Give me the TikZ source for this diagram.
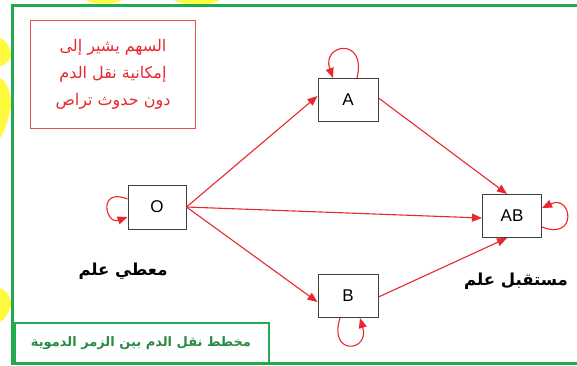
\documentclass[tikz,border=0pt]{standalone}
\usepackage{fontspec}
\setmainfont{Liberation Sans}
\TeXXeTstate=1
\newfontfamily\arabicfont[Script=Arabic]{DejaVu Sans}
\usetikzlibrary{arrows.meta}
\definecolor{frameGreen}{RGB}{34,170,80}
\definecolor{capGreen}{RGB}{40,140,70}
\definecolor{arrRed}{RGB}{232,40,45}
\definecolor{noteRed}{RGB}{230,80,85}
\definecolor{blobYellow}{RGB}{255,250,60}
\tikzset{
  groupbox/.style={draw=black!75, line width=1pt, fill=white,
    inner sep=0pt, font=\fontsize{17}{19}\selectfont},
  flow/.style={draw=arrRed, line width=1.1pt,
    -{Triangle[length=10pt,width=8pt]}, fill=none},
  arlabel/.style={font=\arabicfont\bfseries\fontsize{16.5}{18}\selectfont, inner sep=0pt},
  notetext/.style={text=arrRed, font=\arabicfont\fontsize{16}{18}\selectfont, inner sep=0pt},
}
\begin{document}
\begin{tikzpicture}[x=1pt,y=-1pt]
\useasboundingbox (0,0) rectangle (577,365);
\fill[white] (0,0) rectangle (577,365);

% yellow decorations peeking out behind the frame
\fill[blobYellow] (0,38) .. controls (6,40) and (11,48) .. (11,56)
  .. controls (8,64) and (3,66) .. (0,66) -- cycle;
\fill[blobYellow] (0,78) .. controls (7,82) and (11,92) .. (11,105)
  .. controls (8,122) and (4,132) .. (0,138) -- cycle;
\fill[blobYellow] (0,288) .. controls (6,290) and (11,296) .. (11,305)
  .. controls (8,316) and (3,320) .. (0,322) -- cycle;
\fill[blobYellow] (86,0) .. controls (92,5) and (115,5) .. (122,0) -- cycle;
\fill[blobYellow] (174,0) .. controls (182,6) and (212,6) .. (220,0) -- cycle;

% outer frame
\draw[frameGreen, line width=2.5pt, fill=white] (12.5,5.5) rectangle (579,363.5);

% caption box
\node[draw=frameGreen, line width=2pt, minimum width=254pt, minimum height=41pt,
  inner sep=0pt, anchor=north west] (caption) at (14,322) {};
\node[arlabel, text=capGreen, font=\arabicfont\bfseries\fontsize{13}{15}\selectfont]
  (captiontext) at (141,343) {\beginR مخطط نقل الدم بين الزمر الدموية\endR};

% note box
\node[draw=noteRed, line width=0.9pt, minimum width=165pt, minimum height=108pt,
  inner sep=0pt, anchor=north west] (note) at (30,20) {};
\node[notetext] (note1) at (113,47) {\beginR السهم يشير إلى\endR};
\node[notetext] (note2) at (113,74) {\beginR إمكانية نقل الدم\endR};
\node[notetext] (note3) at (113,101) {\beginR دون حدوث تراص\endR};

% blood group boxes
\node[groupbox, minimum width=58pt, minimum height=44pt] (O) at (157,207) {O};
\node[groupbox, minimum width=60pt, minimum height=43pt] (A) at (348,100) {A};
\node[groupbox, minimum width=60pt, minimum height=43pt] (B) at (348,296) {B};
\node[groupbox, minimum width=59pt, minimum height=43pt] (AB) at (512,216) {AB};

% role labels
\node[arlabel] (donor) at (123,271) {\beginR معطي علم\endR};
\node[arlabel] (receiver) at (516,281) {\beginR مستقبل علم\endR};

% transfusion arrows
\draw[flow] (O.east) -- ([yshift=4pt]A.west);
\draw[flow] (O.east) -- ([yshift=-2pt]AB.west);
\draw[flow] (O.east) -- ([yshift=-6pt]B.west);
\draw[flow] ([yshift=2pt]A.east) -- ([xshift=-5pt]AB.north);
\draw[flow] ([yshift=-1pt]B.east) -- ([xshift=-5pt]AB.south);

% self loops
\draw[flow] ([xshift=9pt]A.north) .. controls +(10,-42) and +(-12,-34) .. ([xshift=-15pt]A.north);
\draw[flow] ([xshift=-8pt]B.south) .. controls +(-12,38) and +(10,34) .. ([xshift=12pt]B.south);
\draw[flow] ([yshift=8pt]O.west) .. controls +(-30,-12) and +(-22,8) .. ([yshift=-10pt]O.west);
\draw[flow] ([yshift=-11pt]AB.east) .. controls +(36,14) and +(30,-14) .. ([yshift=8pt]AB.east);
\end{tikzpicture}
\end{document}
